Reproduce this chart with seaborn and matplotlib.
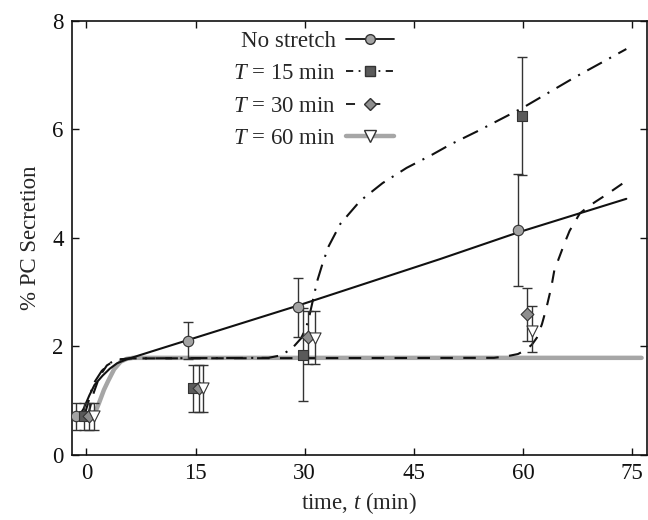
import numpy as np
import pandas as pd
import matplotlib
matplotlib.use("Agg")
import matplotlib.pyplot as plt
from matplotlib.lines import Line2D
import seaborn as sns

# ---- data ----
# model curves
t_none = [-1.2, -0.4, 0.4, 1.1, 2.2, 3.2, 4.2, 5.3, 6.4, 9.0, 14.0, 29.0, 48.6, 59.3, 74.2]
v_none = [0.68, 0.85, 1.10, 1.29, 1.46, 1.59, 1.69, 1.75, 1.80, 1.91, 2.12, 2.75, 3.61, 4.10, 4.72]

t_15 = [-0.3, 0.2, 0.9, 2.1, 3.3, 4.5, 6.0, 25.0, 26.5, 27.5, 28.5, 29.5, 30.2, 30.7, 31.2, 31.7,
        32.5, 33.3, 34.9, 37.6, 40.7, 44.0, 47.6, 50.0, 53.8, 60.0, 67.0, 74.2]
v_15 = [0.72, 0.95, 1.30, 1.55, 1.70, 1.76, 1.78, 1.79, 1.83, 1.90, 2.00, 2.15, 2.35, 2.60, 2.90, 3.20,
        3.55, 3.85, 4.26, 4.68, 5.01, 5.29, 5.54, 5.72, 5.97, 6.40, 6.95, 7.48]

t_30 = [0.2, 1.0, 1.8, 2.8, 4.0, 6.0, 56.0, 57.8, 59.3, 60.3, 61.2, 61.9, 62.6, 63.2, 63.9, 64.3,
        65.0, 65.7, 66.4, 67.8, 69.0, 70.0, 71.5, 74.2]
v_30 = [0.72, 1.15, 1.45, 1.65, 1.75, 1.78, 1.79, 1.82, 1.86, 1.93, 2.03, 2.16, 2.41, 2.70, 3.10, 3.40,
        3.65, 3.90, 4.13, 4.45, 4.58, 4.67, 4.80, 5.05]

t_60 = [1.0, 1.7, 2.4, 3.0, 3.8, 4.7, 5.5, 6.4, 76.3]
v_60 = [0.72, 0.95, 1.20, 1.37, 1.58, 1.72, 1.77, 1.79, 1.79]

# experimental points (x, mean, lower, upper)
x_none = [-1.4, 14.0, 29.1, 59.3]
y_none = [0.71, 2.10, 2.72, 4.15]
lo_none = [0.46, 1.76, 2.18, 3.11]
hi_none = [0.96, 2.45, 3.26, 5.18]

x_s15 = [-0.3, 14.7, 29.7, 59.9]
y_s15 = [0.71, 1.23, 1.84, 6.25]
lo_s15 = [0.46, 0.80, 0.99, 5.15]
hi_s15 = [0.96, 1.66, 2.70, 7.33]

x_s30 = [0.3, 15.4, 30.5, 60.6]
y_s30 = [0.71, 1.23, 2.17, 2.59]
lo_s30 = [0.46, 0.80, 1.68, 2.10]
hi_s30 = [0.96, 1.66, 2.66, 3.07]

x_s60 = [1.0, 16.0, 31.4, 61.3]
y_s60 = [0.71, 1.23, 2.16, 2.28]
lo_s60 = [0.46, 0.80, 1.68, 1.89]
hi_s60 = [0.96, 1.66, 2.66, 2.75]

labels = ["No stretch", "$T$ = 15 min", "$T$ = 30 min", "$T$ = 60 min"]
x_ticks = [0, 15, 30, 45, 60, 75]
y_ticks = [0, 2, 4, 6, 8]

# ---- style ----
sns.set_style("ticks")
plt.rcParams["font.family"] = ["Liberation Serif", "DejaVu Serif"]
plt.rcParams["mathtext.fontset"] = "custom"
plt.rcParams["mathtext.rm"] = "Liberation Serif"
plt.rcParams["mathtext.it"] = "Liberation Serif:italic"

FS = 16.5
fig = plt.figure(figsize=(6.48, 5.2), dpi=100)
ax = fig.add_axes([0.111, 0.125, 0.887, 0.835])

dash_dot = (0, (8, 4, 1, 4))
dashed = (0, (6, 5))

# curves
sns.lineplot(x=t_60, y=v_60, ax=ax, color="#a6a6a6", lw=3.2, sort=False, estimator=None, zorder=2)
sns.lineplot(x=t_none, y=v_none, ax=ax, color="#111111", lw=1.5, sort=False, estimator=None, zorder=3)
sns.lineplot(x=t_15, y=v_15, ax=ax, color="#111111", lw=1.5, sort=False, estimator=None,
             linestyle=dash_dot, zorder=3)
sns.lineplot(x=t_30, y=v_30, ax=ax, color="#111111", lw=1.5, sort=False, estimator=None,
             linestyle=dashed, zorder=3)

# points with error bars
series = [
    (x_none, y_none, lo_none, hi_none, "o", "#a3a3a3", 7.5),
    (x_s15, y_s15, lo_s15, hi_s15, "s", "#5a5a5a", 7),
    (x_s30, y_s30, lo_s30, hi_s30, "D", "#8e8e8e", 6.5),
    (x_s60, y_s60, lo_s60, hi_s60, "v", "white", 8),
]
for xs, ys, lo, hi, mk, fc, ms in series:
    ys_a = np.array(ys)
    yerr = np.vstack([ys_a - np.array(lo), np.array(hi) - ys_a])
    ax.errorbar(xs, ys, yerr=yerr, fmt="none", ecolor="#333333", elinewidth=1.0,
                capsize=3.5, capthick=1.0, zorder=4)
    sns.scatterplot(x=xs, y=ys, ax=ax, marker=mk, s=ms ** 2, color=fc,
                    edgecolor="#333333", linewidth=0.8, zorder=5, legend=False)

ax.set_xlim(-2, 77)
ax.set_ylim(0, 8)
ax.set_xticks(x_ticks)
ax.set_yticks(y_ticks)
ax.tick_params(direction="in", top=True, right=True, length=5, width=1,
               labelsize=FS, pad=6, colors="#111111")
for sp in ax.spines.values():
    sp.set_linewidth(1.2)
    sp.set_color("#111111")

ax.set_xlabel("time, $t$ (min)", fontsize=FS, labelpad=4)
ax.set_ylabel("% PC Secretion", fontsize=FS, labelpad=8)

handles = [
    Line2D([], [], color="#111111", lw=1.3, marker="o", markersize=7, markerfacecolor="#a3a3a3",
           markeredgecolor="#333333"),
    Line2D([], [], color="#111111", lw=1.3, linestyle=(0, (4, 3, 1, 3)), marker="s", markersize=6.5,
           markerfacecolor="#5a5a5a", markeredgecolor="#333333"),
    Line2D([], [], color="#111111", lw=1.3, linestyle=(0, (5, 9)), marker="D", markersize=6.5,
           markerfacecolor="#8e8e8e", markeredgecolor="#333333"),
    Line2D([], [], color="#a6a6a6", lw=3.2, marker="v", markersize=8, markerfacecolor="white",
           markeredgecolor="#333333"),
]
ax.legend(handles, labels, loc="upper center", bbox_to_anchor=(0.42, 1.025), frameon=False,
          markerfirst=False, fontsize=FS, handlelength=2.1, handletextpad=0.45, labelspacing=0.5)

fig.savefig("out.png", dpi=100)
